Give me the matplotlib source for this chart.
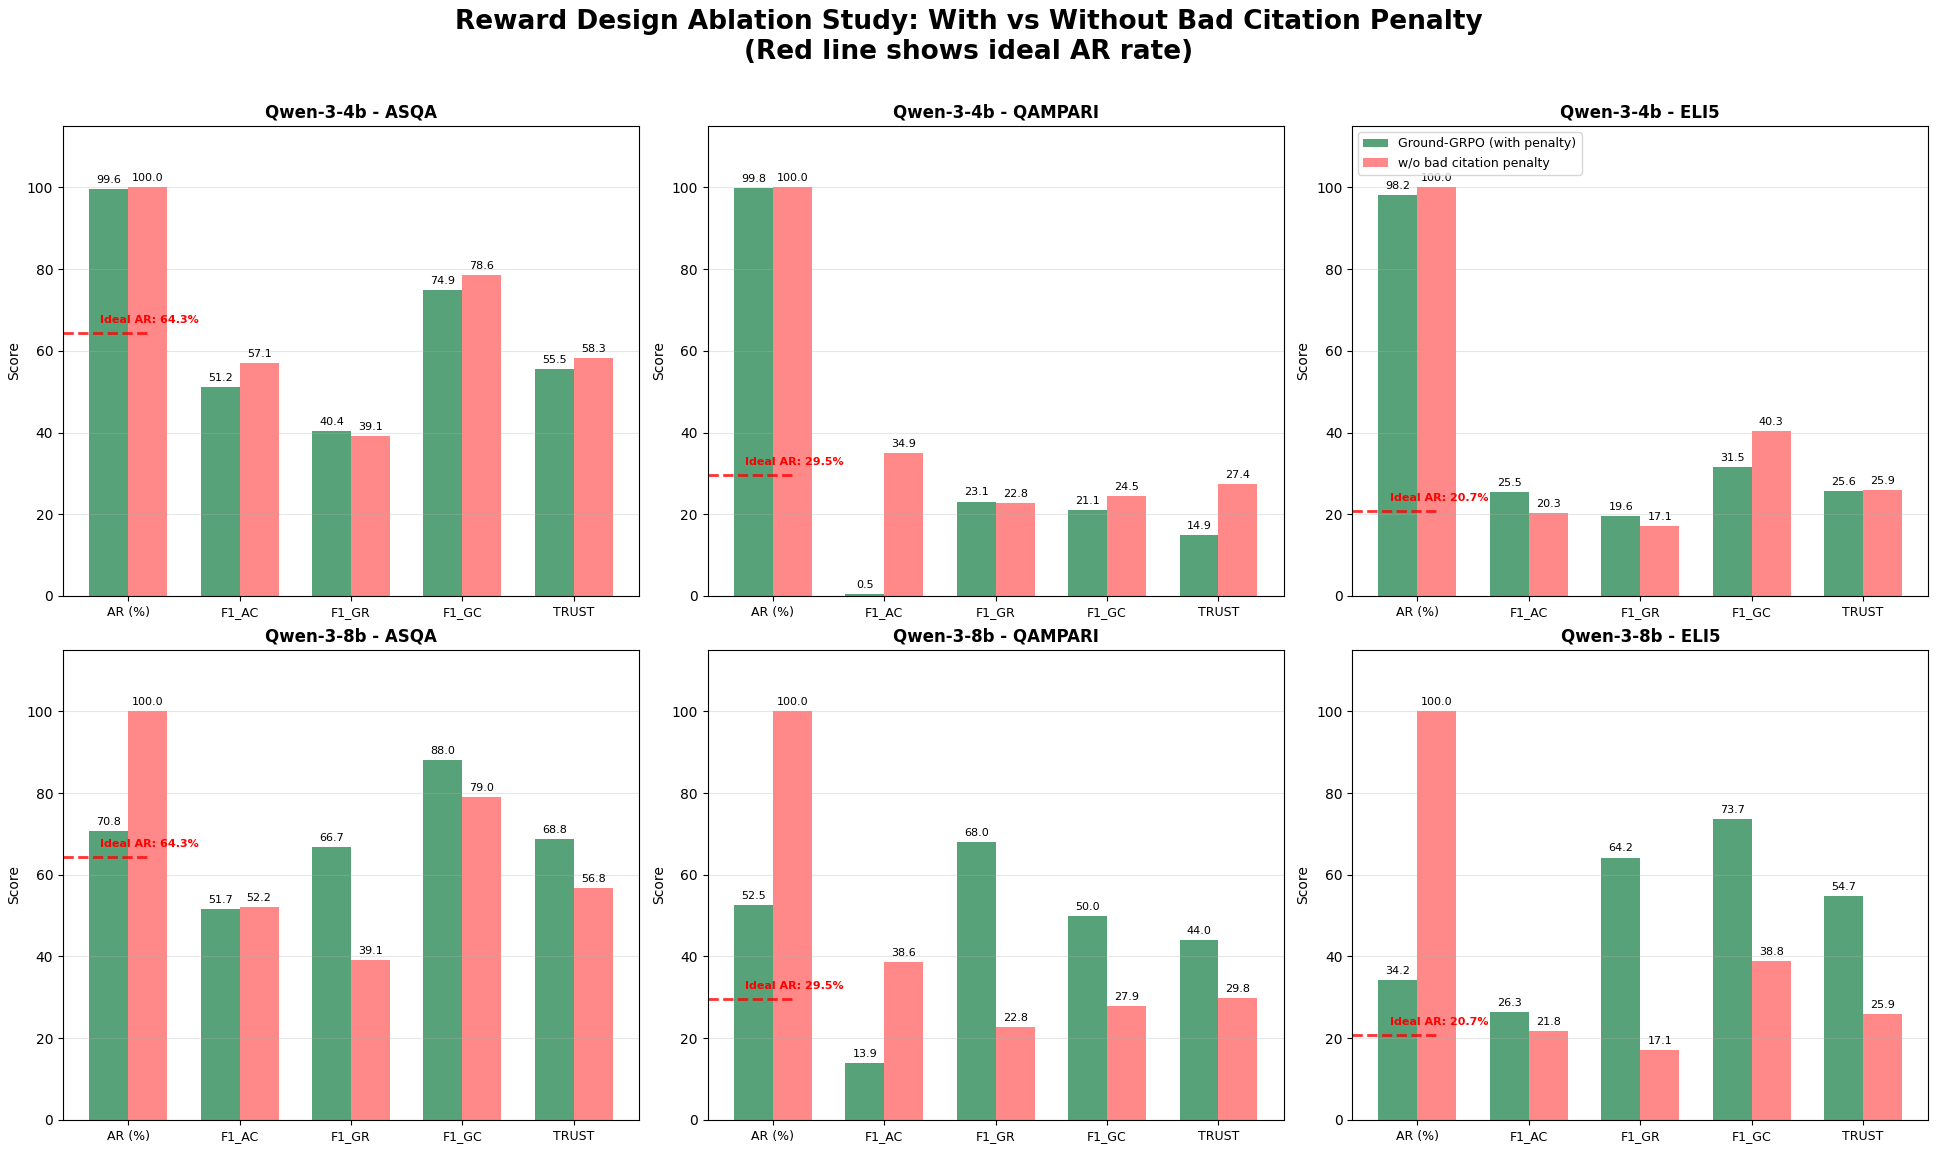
import numpy as np
import matplotlib
matplotlib.use('Agg')
from matplotlib import pyplot as plt

metrics = ['AR (%)', 'F1_AC', 'F1_GR', 'F1_GC', 'TRUST']
models = ['Qwen-3-4b', 'Qwen-3-8b']
datasets = ['ASQA', 'QAMPARI', 'ELI5']
ideal_ar = {'ASQA': 64.3, 'QAMPARI': 29.5, 'ELI5': 20.7}

# 有惩罚 (Ground-GRPO)
with_penalty = {
    ('Qwen-3-4b', 'ASQA'): [99.6, 51.2, 40.4, 74.9, 55.5],
    ('Qwen-3-4b', 'QAMPARI'): [99.8, 0.5, 23.1, 21.1, 14.9],
    ('Qwen-3-4b', 'ELI5'): [98.2, 25.5, 19.6, 31.5, 25.6],
    ('Qwen-3-8b', 'ASQA'): [70.8, 51.7, 66.7, 88.0, 68.8],
    ('Qwen-3-8b', 'QAMPARI'): [52.5, 13.9, 68.0, 50.0, 44.0],
    ('Qwen-3-8b', 'ELI5'): [34.2, 26.3, 64.2, 73.7, 54.7],
}
# 无惩罚
without_penalty = {
    ('Qwen-3-4b', 'ASQA'): [100.0, 57.1, 39.1, 78.6, 58.3],
    ('Qwen-3-4b', 'QAMPARI'): [100.0, 34.9, 22.8, 24.5, 27.4],
    ('Qwen-3-4b', 'ELI5'): [100.0, 20.3, 17.1, 40.3, 25.9],
    ('Qwen-3-8b', 'ASQA'): [100.0, 52.2, 39.1, 79.0, 56.8],
    ('Qwen-3-8b', 'QAMPARI'): [100.0, 38.6, 22.8, 27.9, 29.8],
    ('Qwen-3-8b', 'ELI5'): [100.0, 21.8, 17.1, 38.8, 25.9],
}

fig, axes = plt.subplots(2, 3, figsize=(19.38, 11.51), dpi=100)
fig.suptitle('Reward Design Ablation Study: With vs Without Bad Citation Penalty\n(Red line shows ideal AR rate)',
             fontsize=19, fontweight='bold', y=0.992)

x = np.arange(len(metrics))
width = 0.35

for i, model in enumerate(models):
    for j, ds in enumerate(datasets):
        ax = axes[i, j]
        g = with_penalty[(model, ds)]
        r = without_penalty[(model, ds)]
        b1 = ax.bar(x - width / 2, g, width, color='#2E8B57', alpha=0.8, label='Ground-GRPO (with penalty)')
        b2 = ax.bar(x + width / 2, r, width, color='#FF6B6B', alpha=0.8, label='w/o bad citation penalty')
        for bars in (b1, b2):
            for bar in bars:
                h = bar.get_height()
                ax.text(bar.get_x() + bar.get_width() / 2, h + 1, f'{h:.1f}',
                        ha='center', va='bottom', fontsize=8)
        # 理想AR线
        ia = ideal_ar[ds]
        ax.axhline(y=ia, xmin=0, xmax=0.15, color='red', linestyle='--', linewidth=2, alpha=0.8)
        ax.text(-0.25, ia + 2, f'Ideal AR: {ia}%', color='red', fontsize=8, fontweight='bold',
                ha='left', va='bottom')
        ax.set_title(f'{model} - {ds}', fontsize=12, fontweight='bold')
        ax.set_ylabel('Score', fontsize=10)
        ax.set_xticks(x)
        ax.set_xticklabels(metrics, fontsize=9)
        ax.set_ylim(0, 115)
        ax.grid(axis='y', alpha=0.3)
        if i == 0 and j == 2:
            ax.legend(loc='upper left', fontsize=9)

plt.subplots_adjust(left=0.0325, right=0.995, top=0.8905, bottom=0.027, wspace=0.119, hspace=0.115)
plt.savefig('out.png', dpi=100)
plt.close()
